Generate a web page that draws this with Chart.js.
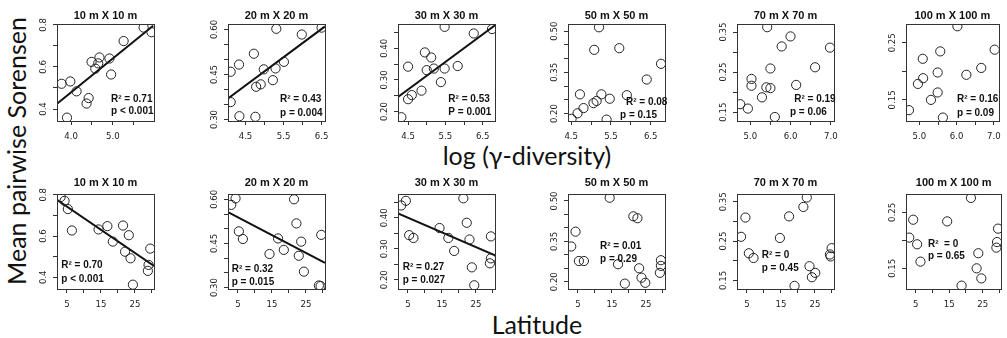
<!DOCTYPE html>
<html>
<head>
<meta charset="utf-8">
<script src="https://cdn.jsdelivr.net/npm/chart.js@4.4.1/dist/chart.umd.min.js"></script>
<style>
  body { margin: 0; background: #fff; }
  #page { position: relative; width: 1007px; height: 338px; overflow: hidden; }
  #page canvas { position: absolute; left: 0; top: 0; }
  .big { position: absolute; font-family: Lato, "Noto Sans", sans-serif; color: #111; white-space: nowrap; transform: translate(-50%, -50%); }
  #ylab { left: 16px; top: 151px; font-size: 25px; transform: translate(-50%, -50%) rotate(-90deg); }
  #xlabTop { left: 527px; top: 155px; font-size: 25px; }
  #xlabBottom { left: 537px; top: 324px; font-size: 25px; }
</style>
</head>
<body>
<div id="page">
  <div class="big" id="ylab">Mean pairwise Sorensen</div>
  <div class="big" id="xlabTop">log (γ-diversity)</div>
  <div class="big" id="xlabBottom">Latitude</div>
</div>
<script>
// plot titles
const titles = ['10 m X 10 m', '20 m X 20 m', '30 m X 30 m', '50 m X 50 m', '70 m X 70 m', '100 m X 100 m'];

// top row: log(gamma-diversity) vs mean pairwise Sorensen
const g10x = [5.74, 5.93, 5.26, 4.68, 4.49, 4.92, 4.65, 4.58, 4.96, 3.98, 3.77, 4.13, 4.42, 4.37, 3.90];
const g10y = [0.787, 0.765, 0.723, 0.645, 0.624, 0.640, 0.617, 0.592, 0.564, 0.531, 0.520, 0.484, 0.452, 0.426, 0.359];
const g20x = [6.50, 5.31, 5.98, 4.72, 4.33, 4.11, 5.51, 4.98, 5.29, 5.22, 4.90, 4.78, 4.11, 4.34, 4.76];
const g20y = [0.606, 0.602, 0.583, 0.519, 0.483, 0.459, 0.492, 0.467, 0.470, 0.431, 0.417, 0.409, 0.358, 0.311, 0.309];
const g30x = [5.48, 6.75, 6.26, 4.95, 5.12, 4.50, 5.00, 5.19, 5.48, 5.83, 5.38, 4.86, 4.60, 4.50, 4.32];
const g30y = [0.468, 0.461, 0.447, 0.387, 0.371, 0.342, 0.331, 0.336, 0.336, 0.344, 0.293, 0.266, 0.252, 0.239, 0.182];
const g50x = [5.20, 5.08, 5.71, 6.76, 6.40, 4.72, 5.26, 5.90, 5.47, 5.14, 5.06, 4.81, 4.66, 4.51, 5.39];
const g50y = [0.514, 0.432, 0.438, 0.381, 0.324, 0.270, 0.270, 0.267, 0.254, 0.246, 0.238, 0.220, 0.201, 0.181, 0.178];
const g70x = [5.42, 6.00, 5.78, 6.98, 6.61, 5.50, 5.03, 5.03, 5.40, 5.50, 6.14, 5.29, 4.75, 4.94, 5.61];
const g70y = [0.362, 0.339, 0.314, 0.311, 0.262, 0.259, 0.233, 0.216, 0.212, 0.210, 0.218, 0.187, 0.170, 0.159, 0.138];
const g100x = [6.02, 7.02, 5.56, 5.09, 5.49, 6.26, 6.66, 5.10, 4.96, 5.49, 5.31, 4.72, 5.63];
const g100y = [0.279, 0.238, 0.235, 0.222, 0.198, 0.194, 0.206, 0.188, 0.178, 0.163, 0.150, 0.132, 0.119];

// bottom row: latitude vs mean pairwise Sorensen
const lat10x = [3.15, 4.32, 5.29, 6.47, 14.3, 16.9, 21.5, 23.2, 18.5, 22.1, 23.7, 29.5, 29.0, 28.8, 24.4];
const lat10y = [0.789, 0.771, 0.731, 0.627, 0.632, 0.648, 0.651, 0.604, 0.573, 0.524, 0.492, 0.539, 0.460, 0.431, 0.364];
const lat20x = [3.06, 4.32, 21.5, 22.2, 5.29, 6.47, 16.8, 23.6, 29.5, 18.5, 14.3, 22.9, 24.4, 28.8, 29.3];
const lat20y = [0.581, 0.603, 0.600, 0.518, 0.491, 0.465, 0.467, 0.456, 0.479, 0.428, 0.414, 0.408, 0.354, 0.307, 0.305];
const lat30x = [3.04, 4.41, 21.3, 22.3, 14.3, 5.38, 6.64, 16.9, 23.1, 29.4, 18.6, 29.4, 29.1, 23.8, 24.5];
const lat30y = [0.440, 0.455, 0.463, 0.384, 0.367, 0.344, 0.335, 0.335, 0.330, 0.340, 0.293, 0.269, 0.253, 0.240, 0.182];
const lat50x = [14.35, 21.3, 22.5, 4.32, 3.05, 5.30, 6.77, 16.8, 29.4, 29.4, 29.1, 23.0, 23.7, 24.8, 18.8];
const lat50y = [0.512, 0.443, 0.436, 0.386, 0.331, 0.277, 0.277, 0.265, 0.280, 0.259, 0.233, 0.250, 0.215, 0.196, 0.193];
const lat70x = [22.6, 21.6, 4.57, 17.4, 3.29, 14.7, 5.58, 6.95, 29.9, 29.4, 29.6, 23.4, 25.1, 24.1, 19.0];
const lat70y = [0.361, 0.337, 0.310, 0.313, 0.261, 0.258, 0.219, 0.207, 0.232, 0.216, 0.211, 0.186, 0.169, 0.158, 0.136];
const lat100x = [21.5, 29.6, 29.3, 29.1, 4.25, 14.4, 3.07, 5.43, 6.43, 23.7, 23.2, 24.6, 18.7];
const lat100y = [0.276, 0.221, 0.197, 0.187, 0.237, 0.234, 0.205, 0.193, 0.162, 0.177, 0.150, 0.132, 0.119];

// fitted lines (end points)
const fitG10x = [3.66, 5.97], fitG10y = [0.425, 0.796];
const fitG20x = [4.04, 6.59], fitG20y = [0.370, 0.610];
const fitG30x = [4.23, 6.83], fitG30y = [0.246, 0.473];
const fitLat10x = [2.1, 30.6], fitLat10y = [0.776, 0.455];
const fitLat20x = [2.1, 30.6], fitLat20y = [0.556, 0.384];
const fitLat30x = [2.1, 30.6], fitLat30y = [0.414, 0.279];

// statistics text
const topStats = [['R² = 0.71', 'p < 0.001'], ['R² = 0.43', 'p = 0.004'], ['R² = 0.53', 'P = 0.001'],
                  ['R² = 0.08', 'p = 0.15'], ['R² = 0.19', 'p = 0.06'], ['R² = 0.16', 'p = 0.09']];
const bottomStats = [['R² = 0.70', 'p < 0.001'], ['R² = 0.32', 'p = 0.015'], ['R² = 0.27', 'p = 0.027'],
                     ['R² = 0.01', 'p = 0.29'], ['R² = 0', 'p = 0.45'], ['R²  = 0', 'p = 0.65']];

// axis ranges and ticks
const yRanges = [[0.343, 0.804], [0.295, 0.618], [0.170, 0.477], [0.173, 0.526], [0.128, 0.370], [0.113, 0.283]];
const yStep = [0.1, 0.05, 0.05, 0.05, 0.05, 0.05];
const yTickLabels = [[0.4, 0.6, 0.8], [0.30, 0.45, 0.60], [0.20, 0.30, 0.40], [0.20, 0.35, 0.50], [0.15, 0.25, 0.35], [0.15, 0.25]];
const gRanges = [[3.66, 5.99], [4.04, 6.59], [4.23, 6.83], [4.42, 6.86], [4.67, 7.08], [4.64, 7.13]];
const gTickLabels = [[4, 5], [4.5, 5.5, 6.5], [4.5, 5.5, 6.5], [4.5, 5.5, 6.5], [5, 6, 7], [5, 6, 7]];
const latRange = [2.1, 30.6];
const latTickLabels = [5, 15, 25];

// layout
const colLeft = [57, 228, 398, 568, 737, 906];
const boxW = 97;
const rows = [{ top: 24, bottom: 121, titleY: 16 }, { top: 194, bottom: 289, titleY: 183 }];
const topStatPos = [
  [[0.557, 0.776], [0.557, 0.897]], [[0.536, 0.78], [0.536, 0.92]], [[0.519, 0.78], [0.519, 0.91]],
  [[0.598, 0.81], [0.536, 0.94]], [[0.59, 0.78], [0.546, 0.91]], [[0.55, 0.78], [0.55, 0.92]]];
const bottomStatPos = [
  [[0.044, 0.755], [0.044, 0.895]], [[0.038, 0.79], [0.038, 0.93]], [[0.048, 0.77], [0.048, 0.91]],
  [[0.33, 0.555], [0.33, 0.69]], [[0.255, 0.64], [0.255, 0.78]], [[0.23, 0.526], [0.23, 0.66]]];

const W = 1007, H = 338;
const tickFont = '9.5px "Liberation Sans Narrow", "DejaVu Sans Condensed", "Liberation Sans", sans-serif';
const ink = '#222';

const toPts = (xs, ys) => xs.map((x, i) => ({ x: x, y: ys[i] }));

const panels = [
  { col: 0, row: 0, xs: g10x, ys: g10y, fx: fitG10x, fy: fitG10y },
  { col: 1, row: 0, xs: g20x, ys: g20y, fx: fitG20x, fy: fitG20y },
  { col: 2, row: 0, xs: g30x, ys: g30y, fx: fitG30x, fy: fitG30y },
  { col: 3, row: 0, xs: g50x, ys: g50y },
  { col: 4, row: 0, xs: g70x, ys: g70y },
  { col: 5, row: 0, xs: g100x, ys: g100y },
  { col: 0, row: 1, xs: lat10x, ys: lat10y, fx: fitLat10x, fy: fitLat10y },
  { col: 1, row: 1, xs: lat20x, ys: lat20y, fx: fitLat20x, fy: fitLat20y },
  { col: 2, row: 1, xs: lat30x, ys: lat30y, fx: fitLat30x, fy: fitLat30y },
  { col: 3, row: 1, xs: lat50x, ys: lat50y },
  { col: 4, row: 1, xs: lat70x, ys: lat70y },
  { col: 5, row: 1, xs: lat100x, ys: lat100y }
];

// box, title, rotated y labels and statistics
const decoPlugin = {
  id: 'deco',
  afterDraw(chart, args, opts) {
    const { ctx, chartArea: a } = chart;
    const p = opts.panel;
    const yScale = chart.scales.y;
    ctx.save();
    ctx.strokeStyle = '#333';
    ctx.lineWidth = 1;
    const l = Math.round(a.left) + 0.5, t = Math.round(a.top) + 0.5;
    const r = Math.round(a.right) + 0.5, b = Math.round(a.bottom) + 0.5;
    ctx.strokeRect(l, t, r - l, b - t);

    ctx.fillStyle = '#111';
    ctx.textAlign = 'center';
    ctx.textBaseline = 'middle';
    ctx.font = 'bold 11px "Liberation Sans", Arial, sans-serif';
    ctx.fillText(titles[p.col], (a.left + a.right) / 2, rows[p.row].titleY);

    ctx.fillStyle = ink;
    ctx.font = tickFont;
    const dec = p.col === 0 ? 1 : 2;
    yTickLabels[p.col].forEach(v => {
      ctx.save();
      ctx.translate(a.left - 13, yScale.getPixelForValue(v));
      ctx.rotate(-Math.PI / 2);
      ctx.fillText(v.toFixed(dec), 0, 0);
      ctx.restore();
    });

    ctx.fillStyle = '#111';
    ctx.textAlign = 'left';
    ctx.font = 'bold 10px "Liberation Sans", Arial, sans-serif';
    const stats = p.row === 0 ? topStats[p.col] : bottomStats[p.col];
    const pos = p.row === 0 ? topStatPos[p.col] : bottomStatPos[p.col];
    stats.forEach((s, i) => {
      ctx.fillText(s, a.left + pos[i][0] * (a.right - a.left), a.top + pos[i][1] * (a.bottom - a.top));
    });
    ctx.restore();
  }
};

const page = document.getElementById('page');

panels.forEach(p => {
  const canvas = document.createElement('canvas');
  canvas.width = W;
  canvas.height = H;
  page.appendChild(canvas);

  const left = colLeft[p.col];
  const row = rows[p.row];
  const xRange = p.row === 0 ? gRanges[p.col] : latRange;
  const xLabels = p.row === 0 ? gTickLabels[p.col] : latTickLabels;

  const datasets = [{
    data: toPts(p.xs, p.ys),
    pointStyle: 'circle',
    pointRadius: 4.6,
    pointHoverRadius: 4.6,
    borderColor: '#222',
    borderWidth: 1,
    backgroundColor: 'rgba(0,0,0,0)'
  }];
  if (p.fx) {
    datasets.push({
      data: toPts(p.fx, p.fy),
      showLine: true,
      pointRadius: 0,
      borderColor: '#111',
      borderWidth: 2
    });
  }

  new Chart(canvas, {
    type: 'scatter',
    data: { datasets: datasets },
    options: {
      responsive: false,
      animation: false,
      devicePixelRatio: 1,
      layout: { padding: { left: left - 20, top: row.top, right: W - (left + boxW), bottom: H - row.bottom - 25 } },
      plugins: { legend: { display: false }, tooltip: { enabled: false }, deco: { panel: p } },
      scales: {
        x: {
          type: 'linear',
          min: xRange[0],
          max: xRange[1],
          afterFit: s => { s.height = 25; },
          border: { display: false },
          grid: { drawOnChartArea: false, drawTicks: true, tickLength: 4, color: '#333', lineWidth: 1 },
          ticks: {
            stepSize: p.row === 0 ? 0.5 : 5,
            includeBounds: false,
            autoSkip: false,
            maxRotation: 0,
            padding: 6,
            color: ink,
            font: { family: '"Liberation Sans Narrow", "DejaVu Sans Condensed", "Liberation Sans", sans-serif', size: 9.5 },
            callback: v => {
              const hit = xLabels.find(t => Math.abs(t - v) < 1e-6);
              if (hit === undefined) return '';
              return p.row === 0 ? hit.toFixed(1) : String(hit);
            }
          }
        },
        y: {
          type: 'linear',
          min: yRanges[p.col][0],
          max: yRanges[p.col][1],
          afterFit: s => { s.width = 20; },
          border: { display: false },
          grid: { drawOnChartArea: false, drawTicks: true, tickLength: 4, color: '#333', lineWidth: 1 },
          ticks: { stepSize: yStep[p.col], includeBounds: false, display: false }
        }
      }
    },
    plugins: [decoPlugin]
  });
});
</script>
</body>
</html>
